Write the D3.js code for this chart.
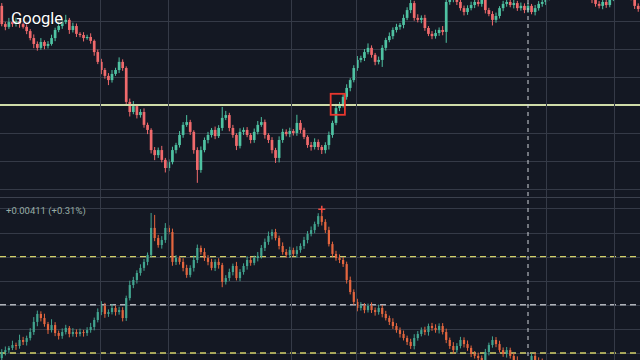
<!DOCTYPE html>
<html>
<head>
<meta charset="utf-8">
<script src="https://cdn.jsdelivr.net/npm/d3@7"></script>
<style>
  html, body { margin: 0; padding: 0; background: #141823; }
  svg { display: block; }
</style>
</head>
<body>
<div id="chart"></div>
<script>
var width = 640;
var height = 360;

// top pane, pips above 1.3220 (open of a bar = close of the bar before)
var topFirstOpen = 65.4;
var topClose = [
    58.9, 57.9, 59.6, 58.9, 60.0, 58.9, 57.9, 56.4, 53.9, 51.8,
    50.4, 52.5, 51.1, 51.8, 53.9, 56.8, 58.2, 59.6, 60.4, 56.8,
    58.2, 55.4, 55.0, 53.9, 54.3, 52.9, 48.9, 45.4, 42.5, 40.4,
    38.9, 41.1, 42.5, 45.4, 43.2, 31.1, 27.5, 29.6, 26.4, 27.5,
    22.9, 21.1, 13.9, 12.1, 13.9, 10.4, 7.5, 9.6, 13.9, 15.7,
    19.3, 22.9, 23.9, 20.4, 13.9, 6.8, 13.9, 17.5, 19.3, 21.1,
    18.9, 21.8, 25.4, 26.4, 21.8, 19.3, 15.4, 20.4, 21.1, 19.3,
    17.5, 20.4, 22.9, 23.9, 19.3, 17.5, 13.9, 11.1, 17.5, 20.4,
    19.6, 20.7, 20.0, 23.6, 21.1, 18.6, 15.7, 15.0, 16.8, 15.0,
    13.9, 15.7, 19.3, 23.6, 28.9, 30.0, 32.9, 36.1, 38.9, 43.2,
    46.1, 46.8, 48.9, 50.4, 47.9, 45.4, 46.1, 50.4, 53.2, 54.6,
    56.8, 57.9, 58.6, 61.1, 63.9, 66.4, 61.1, 60.4, 61.1, 57.5,
    55.4, 54.6, 55.7, 56.8, 56.1, 66.8, 67.5, 68.6, 66.8, 64.6,
    63.2, 64.6, 65.7, 66.8, 66.1, 67.5, 63.9, 62.5, 60.4, 61.8,
    64.6, 66.1, 66.8, 65.7, 66.4, 64.6, 65.4, 63.9, 65.4, 63.2,
    64.6, 66.1, 66.8, 68.2, 70.4, 71.1, 71.8, 72.5, 72.1, 72.9,
    71.8, 72.5, 71.1, 70.4, 69.6, 68.9, 67.5, 66.1, 65.4, 66.8,
    65.7, 68.2, 70.4, 71.1, 71.8, 71.1, 70.4, 68.2, 65.4, 64.3
];
var topWickUp = [
    1.0, 0.8, 1.5, 0.6, 1.2, 0.8, 0.5, 1.0, 0.7, 1.3,
    0.9, 1.4, 0.6, 1.0, 1.2, 0.8, 1.5, 1.1, 1.8, 0.7,
    1.2, 0.9, 0.6, 1.0, 0.8, 1.3, 0.5, 0.9, 1.1, 0.7,
    1.0, 1.4, 0.8, 1.6, 0.9, 0.6, 1.2, 1.8, 0.7, 1.0,
    1.3, 0.8, 0.6, 1.1, 0.9, 1.5, 0.7, 1.0, 1.2, 0.8,
    1.4, 1.0, 2.5, 0.8, 0.6, 1.0, 1.3, 0.9, 1.1, 0.7,
    1.2, 1.0, 3.9, 1.5, 0.8, 1.1, 0.6, 1.3, 0.9, 1.0,
    0.7, 1.2, 1.4, 1.8, 0.9, 0.6, 1.0, 0.8, 1.3, 1.1,
    0.9, 1.2, 0.7, 2.9, 1.0, 0.8, 0.6, 1.1, 1.3, 0.9,
    0.7, 1.0, 1.2, 0.8, 1.5, 1.1, 0.9, 1.3, 0.7, 1.0,
    1.4, 0.8, 1.1, 1.6, 0.9, 0.7, 1.2, 1.0, 0.8, 1.3,
    0.9, 1.1, 0.7, 1.2, 1.0, 1.5, 0.8, 1.3, 0.9, 1.1,
    0.7, 1.0, 1.2, 0.9, 1.4, 1.0, 0.8, 1.1, 0.6, 1.3,
    0.9, 1.0, 1.2, 0.7, 1.1, 0.9, 1.3, 0.8, 1.0, 1.2,
    0.7, 1.1, 0.9, 1.0, 1.3, 0.8, 1.2, 0.9, 1.0, 0.7,
    1.1, 1.0, 0.8, 1.2, 0.9, 1.0, 1.1, 0.8, 1.3, 0.9,
    1.0, 1.2, 0.8, 1.1, 0.9, 1.0, 0.7, 1.2, 1.0, 0.9,
    1.1, 0.8, 1.0, 1.2, 0.9, 1.0, 0.8, 1.1, 1.0, 0.9
];
var topWickDown = [
    0.8, 1.2, 0.7, 1.0, 0.9, 1.3, 0.6, 1.1, 0.8, 1.5,
    1.0, 0.7, 1.2, 0.9, 0.6, 1.1, 0.8, 1.0, 0.7, 1.4,
    0.9, 1.1, 0.8, 1.2, 0.6, 1.0, 1.3, 0.8, 1.5, 1.0,
    1.8, 0.9, 0.7, 1.1, 1.0, 1.4, 1.6, 0.8, 1.2, 0.9,
    1.0, 1.5, 1.2, 1.8, 1.0, 0.9, 1.6, 1.1, 0.8, 1.2,
    0.9, 1.0, 0.7, 1.1, 1.3, 4.6, 1.0, 0.8, 1.2, 0.9,
    1.1, 0.7, 1.0, 0.8, 1.2, 1.0, 1.5, 0.9, 1.1, 0.8,
    1.2, 1.0, 0.9, 0.7, 1.3, 1.1, 1.2, 1.8, 1.6, 1.0,
    0.8, 1.1, 0.9, 1.0, 1.2, 0.8, 1.0, 1.3, 0.9, 1.1,
    1.4, 1.2, 1.6, 1.0, 0.8, 1.1, 0.9, 1.0, 1.2, 0.8,
    1.0, 0.9, 1.1, 0.8, 1.0, 1.2, 0.9, 2.5, 1.0, 0.8,
    1.1, 0.9, 1.0, 1.2, 0.8, 1.1, 1.0, 0.9, 1.2, 1.0,
    0.8, 1.1, 0.9, 1.0, 1.2, 3.9, 1.0, 0.8, 1.1, 0.9,
    1.2, 1.0, 0.8, 1.1, 0.9, 1.0, 1.2, 0.8, 2.0, 1.0,
    0.9, 1.1, 1.0, 0.8, 1.2, 1.0, 0.9, 1.1, 1.0, 0.8,
    1.2, 0.9, 1.0, 1.1, 0.8, 1.0, 1.2, 0.9, 1.0, 1.1,
    0.8, 1.0, 1.2, 0.9, 1.0, 0.8, 1.1, 1.0, 0.9, 1.2,
    1.0, 0.8, 1.1, 1.0, 0.9, 1.2, 1.0, 0.8, 1.1, 1.0
];

// bottom pane (compared symbol), pips above its own base
var botFirstOpen = -2.1;
var botClose = [
    0.4, 1.2, 2.1, 3.3, 2.9, 5.4, 4.6, 6.2, 8.7, 12.9,
    16.2, 14.5, 12.0, 9.5, 11.6, 8.3, 7.1, 8.7, 10.4, 7.9,
    8.7, 7.9, 8.7, 8.3, 9.5, 10.8, 13.7, 17.0, 19.5, 16.2,
    17.0, 18.7, 17.0, 17.8, 14.5, 22.8, 28.2, 30.3, 33.2, 35.3,
    37.8, 40.7, 51.9, 47.7, 44.8, 46.9, 51.9, 50.2, 37.8, 39.4,
    37.8, 35.3, 32.4, 35.3, 38.6, 43.6, 41.9, 39.4, 37.8, 35.3,
    37.8, 36.5, 29.5, 31.1, 33.6, 36.1, 31.1, 33.6, 36.1, 38.6,
    37.4, 39.4, 40.3, 43.6, 46.1, 48.6, 50.2, 47.7, 44.4, 41.9,
    40.7, 42.7, 41.1, 42.7, 44.4, 46.9, 49.4, 51.0, 53.5, 56.8,
    54.4, 51.0, 45.2, 41.1, 39.4, 38.6, 36.9, 30.3, 25.3, 21.2,
    18.7, 19.5, 17.8, 19.5, 17.8, 17.0, 18.7, 16.2, 14.5, 12.9,
    11.2, 9.5, 7.9, 6.2, 4.6, 2.9, 6.2, 7.9, 9.5, 8.7,
    11.2, 10.4, 9.5, 11.2, 8.7, 5.4, 2.9, 1.2, 2.9, 5.4,
    3.7, 2.1, -0.4, -1.2, -2.1, -2.9, 0.4, 3.3, 5.4, 3.7,
    1.2, -0.4, 1.2, -1.2, -2.9, -5.4, -6.2, -7.9, -5.4, -1.2,
    -2.9, -3.7, -6.2, -7.9, -9.5, -11.0, -10.0, -13.0, -15.0
];
var botWickUp = [
    1.2, 1.5, 0.8, 1.8, 1.0, 2.2, 1.3, 1.0, 1.6, 2.0,
    1.4, 1.1, 1.8, 0.9, 2.4, 1.2, 1.0, 1.5, 1.3, 0.8,
    1.6, 1.1, 1.4, 0.9, 1.2, 1.7, 1.0, 1.5, 2.0, 1.3,
    1.1, 1.6, 0.9, 1.4, 1.2, 1.0, 1.8, 1.3, 1.1, 1.5,
    1.2, 1.0, 6.2, 5.4, 1.3, 1.6, 2.0, 1.1, 1.4, 1.2,
    0.9, 1.5, 1.3, 1.1, 1.8, 1.4, 1.0, 1.6, 1.2, 1.3,
    1.1, 1.5, 0.9, 1.2, 1.4, 1.0, 1.7, 1.2, 1.1, 1.5,
    1.3, 1.0, 1.6, 1.2, 1.4, 1.8, 1.1, 1.3, 1.0, 1.5,
    1.2, 1.4, 1.0, 1.6, 1.1, 1.3, 1.2, 1.5, 1.0, 1.2,
    1.6, 1.1, 1.4, 1.0, 1.3, 1.5, 1.2, 1.0, 1.4, 1.1,
    1.3, 1.6, 1.2, 1.0, 1.5, 1.1, 1.4, 1.2, 1.3, 1.0,
    1.5, 1.2, 1.1, 1.4, 1.0, 1.3, 1.6, 1.2, 1.1, 1.4,
    1.0, 1.3, 1.5, 1.1, 1.2, 1.4, 1.0, 1.6, 1.2, 1.3,
    1.1, 1.5, 1.0, 1.2, 1.4, 1.1, 1.3, 1.0, 1.5, 1.2,
    1.4, 1.1, 1.3, 1.0, 1.2, 1.5, 1.1, 1.4, 1.2, 1.0,
    1.3, 1.1, 1.4, 1.2, 1.0, 1.5, 1.1, 1.3, 1.2
];
var botWickDown = [
    1.0, 1.4, 1.2, 0.9, 1.6, 1.1, 1.3, 1.5, 1.0, 1.2,
    1.8, 1.4, 1.1, 1.6, 1.0, 1.3, 1.5, 1.2, 1.0, 1.4,
    1.1, 1.3, 1.0, 1.5, 1.2, 1.1, 1.4, 1.0, 1.3, 1.6,
    1.2, 1.0, 1.5, 1.1, 1.4, 1.2, 1.0, 1.3, 1.5, 1.1,
    1.2, 1.4, 1.0, 1.3, 1.1, 1.5, 1.2, 1.0, 1.6, 1.3,
    1.1, 1.4, 1.2, 1.0, 1.5, 1.3, 1.1, 1.2, 1.4, 1.0,
    1.3, 1.5, 2.2, 1.1, 1.2, 1.4, 1.0, 1.3, 1.1, 1.5,
    1.2, 1.0, 1.4, 1.1, 1.3, 1.2, 1.5, 1.0, 1.4, 1.1,
    1.2, 1.3, 1.0, 1.5, 1.1, 1.2, 1.4, 1.0, 1.3, 1.1,
    1.5, 1.2, 1.0, 1.4, 1.1, 1.3, 1.2, 1.5, 1.0, 1.2,
    1.4, 1.1, 1.3, 1.0, 1.2, 1.5, 1.1, 1.4, 1.0, 1.3,
    1.2, 1.1, 1.5, 1.0, 1.3, 1.2, 1.4, 1.1, 1.0, 1.3,
    1.5, 1.2, 1.1, 1.4, 1.0, 1.3, 1.2, 1.5, 1.1, 1.0,
    1.4, 1.2, 1.3, 1.1, 1.5, 1.0, 1.2, 1.4, 1.1, 1.3,
    1.0, 1.2, 1.5, 1.1, 1.3, 1.4, 1.0, 1.2, 1.1, 1.3,
    1.5, 1.0, 1.2, 1.4, 1.1, 1.3, 1.0, 1.2, 1.4
];

var barCount = 180;
var gridPips = [0, 10, 20, 30, 40, 50, 60];
var gridBars = [28.1, 47.2, 81.8, 100.1, 153.5, 172.7];
var level = 30;                 // 1.3250 breakout level
var boxBars = [93, 96];
var boxPips = [26.5, 34];
var botLevels = [40, 20, 0];
var botLevelColors = ["#d2cf68", "#aeb1b8", "#d2cf68"];
var crossBar = 148;
var changeLabel = "+0.00411 (+0.31%)";
var logoLabel = "Google";

var svg = d3.select("#chart").append("svg")
    .attr("width", width)
    .attr("height", height);

svg.append("rect")
    .attr("width", width)
    .attr("height", height)
    .attr("fill", "#141823");

var x = d3.scaleLinear()
    .domain([0, barCount])
    .range([0, width]);

var yTop = d3.scaleLinear()
    .domain([0, 60])
    .range([189, 21]);

var yBot = d3.scaleLinear()
    .domain([0, 60])
    .range([353, 208.4]);

var defs = svg.append("defs");
defs.append("clipPath").attr("id", "clipTop")
    .append("rect").attr("x", 0).attr("y", 0).attr("width", width).attr("height", 197);
defs.append("clipPath").attr("id", "clipBot")
    .append("rect").attr("x", 0).attr("y", 198).attr("width", width).attr("height", height - 198);

var gTop = svg.append("g").attr("clip-path", "url(#clipTop)");
var gBot = svg.append("g").attr("clip-path", "url(#clipBot)");

// grid
function drawGrid(g, y) {
    g.selectAll("line.h")
        .data(gridPips)
        .enter().append("line")
        .attr("class", "h")
        .attr("x1", 0)
        .attr("x2", width)
        .attr("y1", function (d) { return Math.round(y(d)) + 0.5; })
        .attr("y2", function (d) { return Math.round(y(d)) + 0.5; })
        .attr("stroke", "#353a47")
        .attr("stroke-width", 1);
}
drawGrid(gTop, yTop);
drawGrid(gBot, yBot);

svg.selectAll("line.v")
    .data(gridBars)
    .enter().append("line")
    .attr("class", "v")
    .attr("x1", function (d) { return Math.round(x(d)) + 0.5; })
    .attr("x2", function (d) { return Math.round(x(d)) + 0.5; })
    .attr("y1", 0)
    .attr("y2", height)
    .attr("stroke", "#353a47")
    .attr("stroke-width", 1);

// pane separator
svg.append("line")
    .attr("x1", 0).attr("x2", width)
    .attr("y1", 197.5).attr("y2", 197.5)
    .attr("stroke", "#3c414e")
    .attr("stroke-width", 1);

function makeBars(closes, firstOpen, up, down) {
    return closes.map(function (c, i) {
        var o = i === 0 ? firstOpen : closes[i - 1];
        return {
            i: i, o: o, c: c,
            h: Math.max(o, c) + up[i],
            l: Math.min(o, c) - down[i]
        };
    });
}

function drawCandles(g, bars, y, upColor, downColor, bodyW) {
    var color = function (d) { return d.c >= d.o ? upColor : downColor; };
    var cx = function (d) { return x(d.i + 0.5); };

    g.selectAll("line.wick")
        .data(bars)
        .enter().append("line")
        .attr("class", "wick")
        .attr("x1", cx).attr("x2", cx)
        .attr("y1", function (d) { return y(d.h); })
        .attr("y2", function (d) { return y(d.l); })
        .attr("stroke", color)
        .attr("stroke-width", 1);

    g.selectAll("rect.body")
        .data(bars)
        .enter().append("rect")
        .attr("class", "body")
        .attr("x", function (d) { return cx(d) - bodyW / 2; })
        .attr("y", function (d) { return y(Math.max(d.o, d.c)); })
        .attr("width", bodyW)
        .attr("height", function (d) { return Math.max(1, Math.abs(y(d.o) - y(d.c))); })
        .attr("fill", color);
}

var topBars = makeBars(topClose, topFirstOpen, topWickUp, topWickDown);
var botBars = makeBars(botClose, botFirstOpen, botWickUp, botWickDown);

// bottom pane level lines go under the candles
gBot.selectAll("line.lvl")
    .data(botLevels)
    .enter().append("line")
    .attr("class", "lvl")
    .attr("x1", 0).attr("x2", width)
    .attr("y1", function (d) { return yBot(d); })
    .attr("y2", function (d) { return yBot(d); })
    .attr("stroke", function (d, i) { return botLevelColors[i]; })
    .attr("stroke-width", 1.4)
    .attr("stroke-dasharray", "6,4");

drawCandles(gTop, topBars, yTop, "#4fc2a2", "#f06a6c", 2.7);
drawCandles(gBot, botBars, yBot, "#42a48f", "#e4663f", 2.2);

// breakout level
gTop.append("line")
    .attr("x1", 0).attr("x2", width)
    .attr("y1", yTop(level)).attr("y2", yTop(level))
    .attr("stroke", "#cfdba8")
    .attr("stroke-width", 2);

// red box round the breakout bars
gTop.append("rect")
    .attr("x", x(boxBars[0]))
    .attr("y", yTop(boxPips[1]))
    .attr("width", x(boxBars[1] + 1) - x(boxBars[0]))
    .attr("height", yTop(boxPips[0]) - yTop(boxPips[1]))
    .attr("fill", "none")
    .attr("stroke", "#e8372e")
    .attr("stroke-width", 1.8);

// crosshair
svg.append("line")
    .attr("x1", x(crossBar + 0.5)).attr("x2", x(crossBar + 0.5))
    .attr("y1", 0).attr("y2", height)
    .attr("stroke", "#d0d3da")
    .attr("stroke-width", 1)
    .attr("stroke-dasharray", "4,4");

// red mark on the bottom pane high
var peak = botBars[d3.maxIndex(botBars, function (d) { return d.h; })];
var px = x(peak.i + 0.5), py = yBot(peak.h) - 3;
gBot.append("path")
    .attr("d", "M" + (px - 3.5) + "," + py + "H" + (px + 3.5) + "M" + px + "," + (py - 3.5) + "V" + (py + 3.5))
    .attr("stroke", "#ef4b3f")
    .attr("stroke-width", 1.6);

svg.append("text")
    .attr("x", 6)
    .attr("y", 214)
    .attr("font-family", "Roboto, sans-serif")
    .attr("font-size", 9.5)
    .attr("fill", "#98ada6")
    .text(changeLabel);

svg.append("text")
    .attr("x", 11)
    .attr("y", 23.5)
    .attr("font-family", "Roboto, 'Open Sans', sans-serif")
    .attr("font-size", 16.5)
    .attr("fill", "#ffffff")
    .style("paint-order", "stroke")
    .attr("stroke", "rgba(0,0,0,0.35)")
    .attr("stroke-width", 1.5)
    .text(logoLabel);
</script>
</body>
</html>
